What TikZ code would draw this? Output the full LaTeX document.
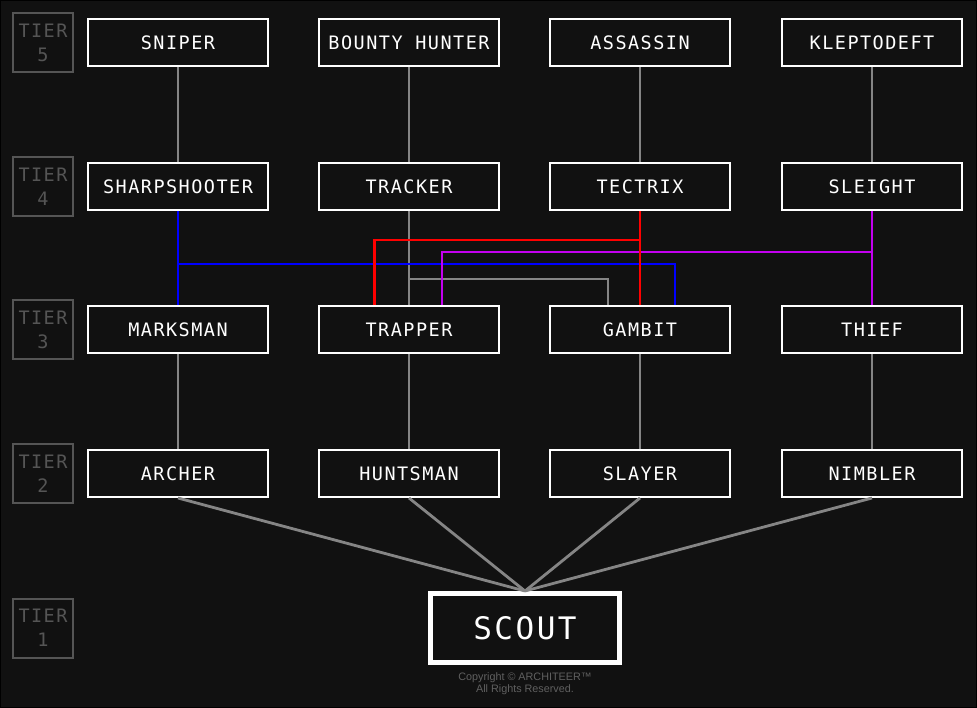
\documentclass[tikz,border=0pt]{standalone}
\usepackage{fontspec}
\setmonofont{DejaVu Sans Mono}
\newfontfamily\boxfont[LetterSpace=8]{DejaVu Sans Mono}
\newfontfamily\copyfont{Liberation Sans}
\usetikzlibrary{calc}
\definecolor{bg}{HTML}{111111}
\definecolor{tiergray}{HTML}{555555}
\definecolor{linegray}{HTML}{858585}
\definecolor{copygray}{HTML}{606060}
\definecolor{cblue}{HTML}{0000FF}
\definecolor{cred}{HTML}{FF0000}
\definecolor{cmag}{HTML}{C400F0}
\tikzset{
  classbox/.style={draw=white, line width=2pt, fill=bg, minimum width=180pt, minimum height=47pt, inner sep=0pt, text=white, font=\boxfont\fontsize{18.5}{18.5}\selectfont},
  scoutbox/.style={draw=white, line width=5pt, fill=bg, minimum width=189pt, minimum height=69pt, inner sep=0pt, text=white, font=\boxfont\fontsize{31}{31}\selectfont},
  tierbox/.style={draw=tiergray, line width=2pt, minimum width=60pt, minimum height=59pt, inner sep=0pt, text=tiergray, align=center, font=\boxfont\fontsize{18.5}{24}\selectfont},
  conn/.style={line width=2.8pt},
}
\begin{document}
\begin{tikzpicture}[x=1pt,y=-1pt]
\useasboundingbox (0,0) rectangle (977,708);
\fill[bg] (0,0) rectangle (977,708);
\draw[black, line width=1pt] (0.5,0.5) rectangle (976.5,707.5);

% tier labels
\node[tierbox] (t5) at (43,42.5) {TIER\\5};
\node[tierbox] (t4) at (43,186.5) {TIER\\4};
\node[tierbox] (t3) at (43,329.5) {TIER\\3};
\node[tierbox] (t2) at (43,473.5) {TIER\\2};
\node[tierbox] (t1) at (43,628) {TIER\\1};

% class boxes
\node[classbox] (sniper) at (178,42.5) {SNIPER};
\node[classbox] (bounty) at (409,42.5) {BOUNTY HUNTER};
\node[classbox] (assassin) at (640,42.5) {ASSASSIN};
\node[classbox] (klepto) at (872,42.5) {KLEPTODEFT};

\node[classbox] (sharp) at (178,186.5) {SHARPSHOOTER};
\node[classbox] (tracker) at (409,186.5) {TRACKER};
\node[classbox] (tectrix) at (640,186.5) {TECTRIX};
\node[classbox] (sleight) at (872,186.5) {SLEIGHT};

\node[classbox] (marksman) at (178,329.5) {MARKSMAN};
\node[classbox] (trapper) at (409,329.5) {TRAPPER};
\node[classbox] (gambit) at (640,329.5) {GAMBIT};
\node[classbox] (thief) at (872,329.5) {THIEF};

\node[classbox] (archer) at (178,473.5) {ARCHER};
\node[classbox] (huntsman) at (409,473.5) {HUNTSMAN};
\node[classbox] (slayer) at (640,473.5) {SLAYER};
\node[classbox] (nimbler) at (872,473.5) {NIMBLER};

\node[scoutbox] (scout) at (525,628) {SCOUT};

% gray connectors
\begin{scope}[conn, draw=linegray]
\draw (sniper.south) -- (sharp.north);
\draw (bounty.south) -- (tracker.north);
\draw (assassin.south) -- (tectrix.north);
\draw (klepto.south) -- (sleight.north);
\draw (tracker.south) -- (trapper.north);
\draw (tracker.south |- 0,279) -| ([xshift=-32pt]gambit.north);
\draw (marksman.south) -- (archer.north);
\draw (trapper.south) -- (huntsman.north);
\draw (gambit.south) -- (slayer.north);
\draw (thief.south) -- (nimbler.north);
\draw (archer.south) -- (scout.north);
\draw (huntsman.south) -- (scout.north);
\draw (slayer.south) -- (scout.north);
\draw (nimbler.south) -- (scout.north);
\end{scope}
% blue
\draw[conn, cblue] (sharp.south) -- (marksman.north);
\draw[conn, cblue] (sharp.south |- 0,264) -| ([xshift=35pt]gambit.north);
% magenta
\draw[conn, cmag] (sleight.south) -- (thief.north);
\draw[conn, cmag] (sleight.south |- 0,252) -| ([xshift=33pt]trapper.north);
% red
\draw[conn, cred] (tectrix.south) -- (gambit.north);
\draw[conn, cred] (tectrix.south |- 0,240) -| ([xshift=-34.5pt]trapper.north);

% copyright
\node[text=copygray, font=\copyfont\fontsize{10.8}{11.5}\selectfont, align=center, inner sep=0pt] (copy) at (525,683.5) {Copyright \textcopyright\ ARCHITEER\texttrademark\\All Rights Reserved.};
\end{tikzpicture}
\end{document}
